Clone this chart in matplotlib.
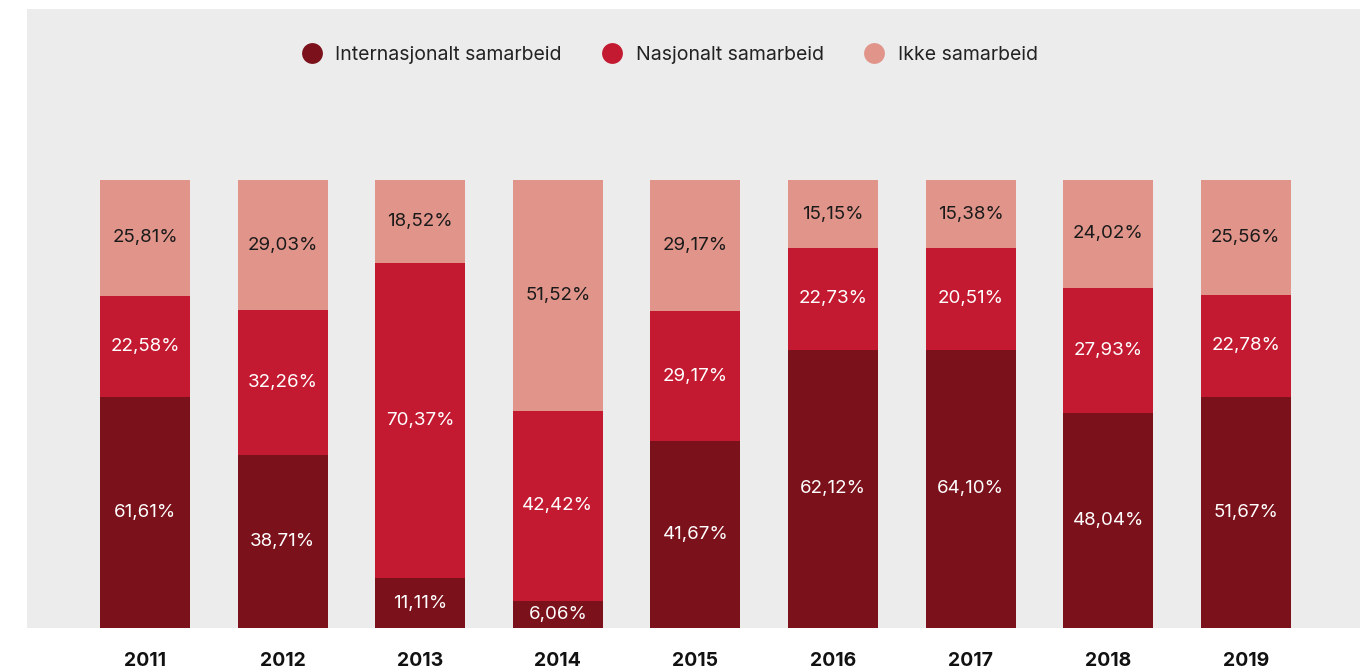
import numpy as np
import matplotlib.pyplot as plt

plt.rcParams['font.family'] = ['Inter', 'DejaVu Sans']

# Data (høyder slik søylene er tegnet)
years = ['2011', '2012', '2013', '2014', '2015', '2016', '2017', '2018', '2019']
internasjonalt = [51.61, 38.71, 11.11, 6.06, 41.67, 62.12, 62.12, 48.04, 51.67]
nasjonalt = [22.58, 32.26, 70.37, 42.42, 29.17, 22.73, 22.73, 27.93, 22.78]
ikke = [25.81, 29.03, 18.52, 51.52, 29.17, 15.15, 15.15, 24.02, 25.56]

# etikettene slik de står i originalen (2011 og 2017 avviker fra høydene)
internasjonalt_tekst = ['61,61%', '38,71%', '11,11%', '6,06%', '41,67%',
                        '62,12%', '64,10%', '48,04%', '51,67%']
nasjonalt_tekst = ['22,58%', '32,26%', '70,37%', '42,42%', '29,17%',
                   '22,73%', '20,51%', '27,93%', '22,78%']
ikke_tekst = ['25,81%', '29,03%', '18,52%', '51,52%', '29,17%',
              '15,15%', '15,38%', '24,02%', '25,56%']
serier = ['Internasjonalt samarbeid', 'Nasjonalt samarbeid', 'Ikke samarbeid']

farger = ['#7b121b', '#c41a31', '#e1958a']
tekstfarger = ['white', 'white', '#1a1a1a']

fig = plt.figure(figsize=(13.69, 6.70), dpi=100)
ax = fig.add_axes([27/1369, 42/670, 1333/1369, 619/670])
ax.set_facecolor('#ececec')

x = np.arange(len(years))
bredde = 0.654
bunn = np.zeros(len(years))
for i, (verdier, tekster, navn) in enumerate(zip([internasjonalt, nasjonalt, ikke],
                                                 [internasjonalt_tekst, nasjonalt_tekst, ikke_tekst],
                                                 serier)):
    verdier = np.array(verdier)
    ax.bar(x, verdier, bredde, bottom=bunn, color=farger[i], label=navn,
           edgecolor='none')
    for j in range(len(years)):
        ax.text(x[j], bunn[j] + verdier[j] / 2, tekster[j], ha='center', va='center',
                color=tekstfarger[i], fontsize=13.5)
    bunn += verdier

ax.set_xlim(-0.858, 8.83)
ax.set_ylim(0, 138.2)
ax.set_yticks([])
ax.set_xticks(x)
ax.set_xticklabels(years, fontsize=14, fontweight='bold', color='#111111')
ax.tick_params(axis='x', length=0, pad=17)
for s in ax.spines.values():
    s.set_visible(False)

handles = [plt.Line2D([], [], marker='o', linestyle='none', markersize=15,
                      markerfacecolor=c, markeredgecolor='none') for c in farger]
fig.legend(handles, serier, loc='center', bbox_to_anchor=(665/1369, 1 - 55/670),
           ncol=3, frameon=False, fontsize=14, handletextpad=0.2,
           columnspacing=1.6, labelcolor='#222222')

fig.savefig('out.png', dpi=100)
